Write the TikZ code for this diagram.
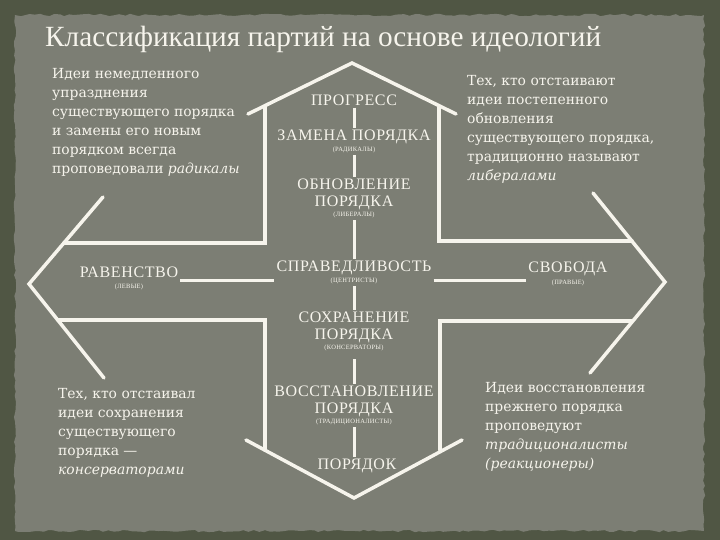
\documentclass[tikz,border=0pt]{standalone}
\usepackage{fontspec}
\setmainfont{Liberation Serif}
\newfontfamily\bodyfont{DejaVu Serif}
\newfontfamily\capsfont[LetterSpace=4]{Liberation Serif}
\usepackage{xcolor}
\definecolor{slidegrey}{RGB}{124, 126, 116}
\definecolor{slideedge}{RGB}{80, 86, 68}
\definecolor{chalk}{RGB}{246, 244, 236}
\usetikzlibrary{
    positioning,
    calc,
    decorations.pathmorphing
}
\tikzstyle{crossline} = [
    draw=chalk,
    line width=3.5pt,
    line cap=round,
    line join=miter
]
\tikzstyle{axis} = [
    draw=chalk,
    line width=3pt
]
\newcommand{\partytag}[1]{{\fontsize{6.5}{7}\selectfont(#1)}}

\begin{document}
\begin{tikzpicture}[
    x=1pt, y=-1pt,
    idea/.style={text=chalk, font=\capsfont\fontsize{16}{16.5}\selectfont, align=center, inner sep=2pt},
    note/.style={text=chalk, font=\bodyfont\fontsize{13.9}{19}\selectfont, align=left, anchor=north west, inner sep=0pt}
]
    \useasboundingbox (0,0) rectangle (720,540);

    % Slide background
    \fill[slideedge] (0,0) rectangle (720,540);
    \fill[slidegrey, decorate, decoration={random steps, segment length=5pt, amplitude=1.2pt}]
        (15,15) -- (704,15) -- (704,531) -- (15,531) -- cycle;

    % Title
    \node[text=chalk, font=\fontsize{29.3}{32}\selectfont, anchor=base west, inner sep=0pt] (title) at (45,47)
        {Классификация партий на основе идеологий};

    % Top arrow
    \draw[crossline] (248,114) -- (352,63) -- (456,114);
    % Left arrow
    \draw[crossline] (103,197) -- (29,284) -- (104,378);
    % Right arrow
    \draw[crossline] (593,193) -- (665,282) -- (590,373);
    % Bottom arrow
    \draw[crossline] (246,440) -- (354,498) -- (462,440);

    % Shaft of the cross
    \draw[crossline] (265,107) -- (265,243) -- (64,243);
    \draw[crossline] (58,320) -- (265,320) -- (265,450);
    \draw[crossline] (440,450) -- (440,321) -- (632,321);
    \draw[crossline] (632,241) -- (439,241) -- (439,107);

    % Vertical axis
    \node[idea] (progress) at (354,100) {ПРОГРЕСС};
    \node[idea, anchor=north] (zamena) at (354,128) {ЗАМЕНА ПОРЯДКА\\[-6pt]\partytag{РАДИКАЛЫ}};
    \node[idea, anchor=north] (obnovl) at (354,177) {ОБНОВЛЕНИЕ\\ПОРЯДКА\\[-6pt]\partytag{ЛИБЕРАЛЫ}};
    \node[idea, anchor=north] (sprav) at (354,259) {СПРАВЕДЛИВОСТЬ\\[-6pt]\partytag{ЦЕНТРИСТЫ}};
    \node[idea, anchor=north] (sohran) at (354,310) {СОХРАНЕНИЕ\\ПОРЯДКА\\[-6pt]\partytag{КОНСЕРВАТОРЫ}};
    \node[idea, anchor=north] (vosst) at (354,384) {ВОССТАНОВЛЕНИЕ\\ПОРЯДКА\\[-6pt]\partytag{ТРАДИЦИОНАЛИСТЫ}};
    \node[idea] (porjadok) at (357,466) {ПОРЯДОК};

    % Horizontal axis
    \node[idea, anchor=north] (ravenstvo) at (129,265) {РАВЕНСТВО\\[-6pt]\partytag{ЛЕВЫЕ}};
    \node[idea, anchor=north] (svoboda) at (568,260) {СВОБОДА\\[-5pt]\partytag{ПРАВЫЕ}};

    % Notes
    \node[note] (radical) at (52,68) {Идеи немедленного\\упразднения\\существующего порядка\\и замены его новым\\порядком всегда\\проповедовали \textit{радикалы}};
    \node[note] (liberal) at (467,75) {Тех, кто отстаивают\\идеи постепенного\\обновления\\существующего порядка,\\традиционно называют\\\textit{либералами}};
    \node[note] (conserv) at (58,388) {Тех, кто отстаивал\\идеи сохранения\\существующего\\порядка —\\\textit{консерваторами}};
    \node[note] (tradit) at (485,382) {Идеи восстановления\\прежнего порядка\\проповедуют\\\textit{традиционалисты}\\\textit{(реакционеры)}};

    % Axis lines
    \draw[axis] (progress.south) -- (zamena.north);
    \draw[axis] (zamena.south) -- (obnovl.north);
    \draw[axis] (obnovl.south) -- (sprav.north);
    \draw[axis] (sprav.south) -- (sohran.north);
    \draw[axis, shorten <=6pt] (sohran.south) -- (vosst.north);
    \draw[axis] (vosst.south) -- (vosst.south |- porjadok.north);
    \draw[axis] ([yshift=-2pt]ravenstvo.east) -- ([yshift=-2pt]ravenstvo.east -| sprav.west);
    \draw[axis] ([yshift=-2pt]sprav.east |- ravenstvo.east) -- ([yshift=-2pt]svoboda.west |- ravenstvo.east);

\end{tikzpicture}
\end{document}
